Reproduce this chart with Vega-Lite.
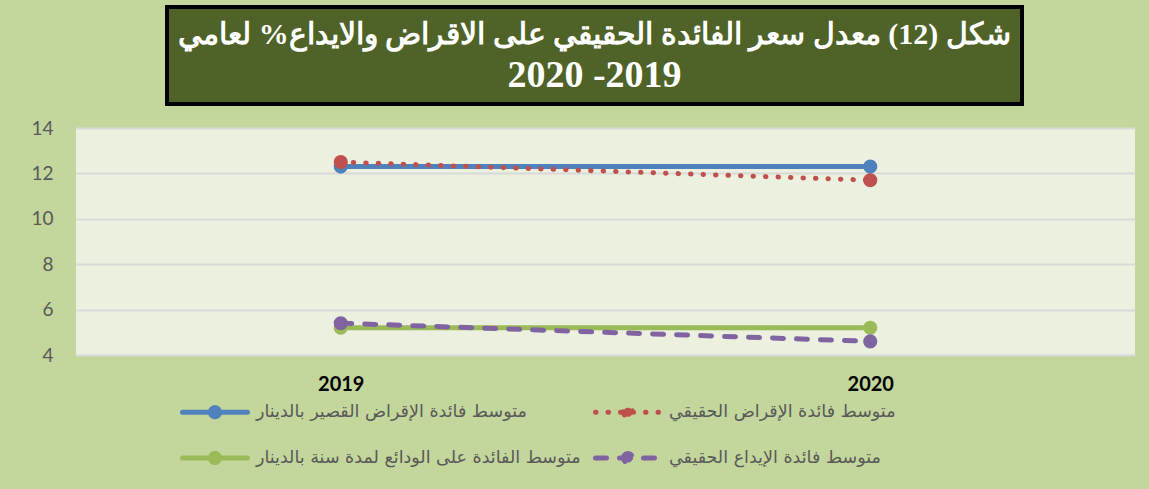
{
  "$schema": "https://vega.github.io/schema/vega-lite/v6.json",
  "background": "#c3d69b",
  "padding": {"left": 30, "top": 5, "right": 15, "bottom": 20},
  "spacing": 13,
  "config": {"view": {"stroke": null}, "font": "Lato"},
  "vconcat": [
    {
      "spacing": 0,
      "hconcat": [
        {
          "width": 89,
          "height": 97,
          "data": {"values": []},
          "mark": {"type": "point", "opacity": 0}
        },
        {
          "width": 855,
          "height": 97,
          "view": {"fill": "#4f6228", "stroke": "#000000", "strokeWidth": 4},
          "data": {"values": [
            {"line": 1, "text": "شكل (12) معدل  سعر الفائدة الحقيقي على الاقراض والايداع% لعامي"},
            {"line": 2, "text": "\u200e2020 -2019"}
          ]},
          "mark": {"type": "text", "font": "Liberation Serif", "fontWeight": "bold", "color": "#ffffff", "baseline": "middle"},
          "encoding": {
            "y": {"field": "line", "type": "ordinal", "scale": {"type": "point", "padding": 0.7}, "axis": null},
            "text": {"field": "text"},
            "size": {"condition": {"test": "datum.line == 1", "value": 30}, "value": 38}
          }
        }
      ]
    },
    {
      "width": 1059,
      "height": 227,
      "view": {"fill": "#ebf1de", "stroke": null},
      "data": {"values": [
        {"year": "2019", "series": "متوسط فائدة الإقراض القصير بالدينار", "value": 12.3},
        {"year": "2019", "series": "متوسط الفائدة على الودائع لمدة سنة بالدينار", "value": 5.2},
        {"year": "2019", "series": "متوسط فائدة الإقراض الحقيقي", "value": 12.5},
        {"year": "2019", "series": "متوسط فائدة الإيداع الحقيقي", "value": 5.4},
        {"year": "2020", "series": "متوسط فائدة الإقراض القصير بالدينار", "value": 12.3},
        {"year": "2020", "series": "متوسط الفائدة على الودائع لمدة سنة بالدينار", "value": 5.2},
        {"year": "2020", "series": "متوسط فائدة الإقراض الحقيقي", "value": 11.7},
        {"year": "2020", "series": "متوسط فائدة الإيداع الحقيقي", "value": 4.6}
      ]},
      "encoding": {
        "x": {"field": "year", "type": "ordinal", "scale": {"type": "point", "padding": 0.5},
              "axis": {"title": null, "labelAngle": 0, "labelFont": "Lato", "labelFontWeight": "bold", "labelFontSize": 20, "labelColor": "#000000", "ticks": false, "domain": false, "grid": false, "labelPadding": 19}},
        "y": {"field": "value", "type": "quantitative", "scale": {"domain": [4, 14], "nice": false, "zero": false},
              "axis": {"title": null, "values": [4, 6, 8, 10, 12, 14], "ticks": false, "domain": false, "labelFontSize": 19, "labelColor": "#595959", "labelPadding": 23, "gridColor": "#d9d9d9", "gridWidth": 2}},
        "color": {"field": "series", "type": "nominal",
          "scale": {"domain": ["متوسط فائدة الإقراض القصير بالدينار", "متوسط فائدة الإقراض الحقيقي", "متوسط الفائدة على الودائع لمدة سنة بالدينار", "متوسط فائدة الإيداع الحقيقي"],
                    "range": ["#4f81bd", "#c0504d", "#9bbb59", "#8064a2"]},
          "legend": {"orient": "none", "legendX": 120, "legendY": 386, "columns": 2, "direction": "horizontal", "title": null,
            "symbolType": "M-2,0L2,0M-0.28,0A0.28,0.28,0,1,1,0.28,0A0.28,0.28,0,1,1,-0.28,0Z",
            "symbolSize": 1056, "symbolStrokeWidth": 5,
            "labelFont": "DejaVu Sans", "labelFontSize": 17.5, "labelColor": "#595959", "labelLimit": 400,
            "columnPadding": 4, "rowPadding": 12, "labelOffset": 22,
            "encode": {"symbols": {"update": {"fill": {"scale": "color", "field": "value"}, "strokeCap": {"value": "round"}}}}}
        }
      },
      "layer": [
        {
          "mark": {"type": "line", "strokeWidth": 5, "strokeCap": "round"},
          "encoding": {
            "strokeDash": {"field": "series", "type": "nominal",
              "scale": {"domain": ["متوسط فائدة الإقراض القصير بالدينار", "متوسط فائدة الإقراض الحقيقي", "متوسط الفائدة على الودائع لمدة سنة بالدينار", "متوسط فائدة الإيداع الحقيقي"],
                        "range": [[1, 0], [0.5, 12], [1, 0], [11, 13]]},
              "legend": {"orient": "none", "legendX": 120, "legendY": 386, "columns": 2, "direction": "horizontal", "title": null,
                "symbolType": "M-2,0L2,0M-0.28,0A0.28,0.28,0,1,1,0.28,0A0.28,0.28,0,1,1,-0.28,0Z",
                "symbolSize": 1056, "symbolStrokeWidth": 5,
                "labelFont": "DejaVu Sans", "labelFontSize": 17.5, "labelColor": "#595959", "labelLimit": 400,
                "columnPadding": 4, "rowPadding": 12, "labelOffset": 22}}
          }
        },
        {
          "mark": {"type": "point", "filled": true, "shape": "circle", "size": 200, "opacity": 1}
        }
      ]
    }
  ]
}
